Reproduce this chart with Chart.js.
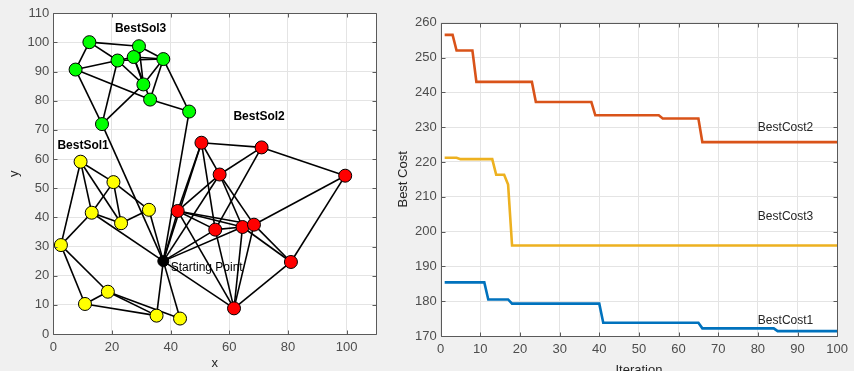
<!DOCTYPE html>
<html>
<head>
<meta charset="utf-8">
<script src="https://cdn.jsdelivr.net/npm/chart.js@4/dist/chart.umd.min.js"></script>
<style>
  html, body { margin: 0; padding: 0; background: #f0f0f0; }
  #wrap { position: relative; width: 854px; height: 371px; overflow: hidden; }
  #routes { position: absolute; left: 0; top: 0; }
  #costs { position: absolute; left: 380px; top: 0; }
</style>
</head>
<body>
<div id="wrap">
  <canvas id="routes" width="385" height="371" style="width:385px;height:371px"></canvas>
  <canvas id="costs" width="474" height="378" style="width:474px;height:378px"></canvas>
</div>
<script>
// ---- Route map: node coordinates per solution ----
const startPoint = { x: 37.5, y: 25 };

const sol1X = [9.3, 20.5, 13.1, 23.1, 32.6, 2.6, 18.6, 10.8, 35.2, 43.2];
const sol1Y = [59.1, 52.1, 41.6, 38.0, 42.6, 30.5, 14.5, 10.3, 6.3, 5.3];

const sol2X = [50.5, 71.0, 99.5, 56.7, 42.4, 55.2, 64.5, 68.4, 81.0, 61.6];
const sol2Y = [65.6, 64.0, 54.3, 54.7, 42.2, 35.8, 36.7, 37.5, 24.7, 8.8];

const sol3X = [12.3, 29.2, 7.6, 21.9, 27.4, 37.5, 30.7, 33.0, 46.3, 16.6];
const sol3Y = [100.1, 98.7, 90.7, 93.8, 95.0, 94.3, 85.6, 80.4, 76.3, 72.0];

// links between nodes ('S' = starting point)
const sol1Links = [[0,5],[0,1],[0,2],[0,3],[1,2],[1,3],[1,4],[2,3],[2,'S'],[3,4],[4,'S'],
  [5,2],[5,7],[5,6],[6,7],[6,8],[6,9],[7,8],[8,'S'],[9,'S']];
const sol2Links = [[0,1],[0,3],[0,4],[0,5],[1,3],[1,5],[1,2],[3,4],[3,6],[3,7],[3,'S'],
  [4,5],[4,6],[4,7],[4,9],[4,'S'],[5,6],[5,9],[5,'S'],[6,'S'],[6,9],[7,9],[7,2],[7,8],
  [6,8],[2,8],[8,9],['S',9],[0,'S']];
const sol3Links = [[0,1],[0,3],[0,2],[1,5],[1,6],[2,3],[2,7],[2,9],[3,4],[3,5],[4,5],
  [3,6],[3,9],[9,6],[4,6],[4,7],[5,6],[5,7],[5,8],[7,8],[8,'S'],[9,'S']];

const routeLabels = [
  { text: 'BestSol3', x: 21, y: 104.6, bold: true },
  { text: 'BestSol2', x: 61.4, y: 74.6, bold: true },
  { text: 'BestSol1', x: 1.4, y: 64.7, bold: true },
  { text: 'Starting Point', x: 40, y: 22.9, bold: false }
];

// ---- Convergence curves (one value per iteration, 1..100) ----
const iterations = Array.from({ length: 100 }, (_, i) => i + 1);

const bestCost1 = [
  185.4,185.4,185.4,185.4,185.4,185.4,185.4,185.4,185.4,185.4,   // 1-10
  185.4,180.5,180.5,180.5,180.5,180.5,180.5,179.3,179.3,179.3,   // 11-20
  179.3,179.3,179.3,179.3,179.3,179.3,179.3,179.3,179.3,179.3,   // 21-30
  179.3,179.3,179.3,179.3,179.3,179.3,179.3,179.3,179.3,179.3,   // 31-40
  173.8,173.8,173.8,173.8,173.8,173.8,173.8,173.8,173.8,173.8,   // 41-50
  173.8,173.8,173.8,173.8,173.8,173.8,173.8,173.8,173.8,173.8,   // 51-60
  173.8,173.8,173.8,173.8,173.8,172.2,172.2,172.2,172.2,172.2,   // 61-70
  172.2,172.2,172.2,172.2,172.2,172.2,172.2,172.2,172.2,172.2,   // 71-80
  172.2,172.2,172.2,172.2,171.4,171.4,171.4,171.4,171.4,171.4,   // 81-90
  171.4,171.4,171.4,171.4,171.4,171.4,171.4,171.4,171.4,171.4    // 91-100
];
const bestCost2 = [
  256.5,256.5,256.5,252,252,252,252,252,243,243,                 // 1-10
  243,243,243,243,243,243,243,243,243,243,                       // 11-20
  243,243,243,237.2,237.2,237.2,237.2,237.2,237.2,237.2,         // 21-30
  237.2,237.2,237.2,237.2,237.2,237.2,237.2,237.2,233.4,233.4,   // 31-40
  233.4,233.4,233.4,233.4,233.4,233.4,233.4,233.4,233.4,233.4,   // 41-50
  233.4,233.4,233.4,233.4,233.4,232.5,232.5,232.5,232.5,232.5,   // 51-60
  232.5,232.5,232.5,232.5,232.5,225.7,225.7,225.7,225.7,225.7,   // 61-70
  225.7,225.7,225.7,225.7,225.7,225.7,225.7,225.7,225.7,225.7,   // 71-80
  225.7,225.7,225.7,225.7,225.7,225.7,225.7,225.7,225.7,225.7,   // 81-90
  225.7,225.7,225.7,225.7,225.7,225.7,225.7,225.7,225.7,225.7    // 91-100
];
const bestCost3 = [
  221.2,221.2,221.2,221.2,220.8,220.8,220.8,220.8,220.8,220.8,   // 1-10
  220.8,220.8,220.8,216.3,216.3,216.3,213.5,196,196,196,         // 11-20
  196,196,196,196,196,196,196,196,196,196,                       // 21-30
  196,196,196,196,196,196,196,196,196,196,                       // 31-40
  196,196,196,196,196,196,196,196,196,196,                       // 41-50
  196,196,196,196,196,196,196,196,196,196,                       // 51-60
  196,196,196,196,196,196,196,196,196,196,                       // 61-70
  196,196,196,196,196,196,196,196,196,196,                       // 71-80
  196,196,196,196,196,196,196,196,196,196,                       // 81-90
  196,196,196,196,196,196,196,196,196,196                        // 91-100
];

const costLabels = [
  { text: 'BestCost2', x: 80, y: 229.8 },
  { text: 'BestCost3', x: 80, y: 204.4 },
  { text: 'BestCost1', x: 80, y: 174.4 }
];

// ---- shared drawing helpers ----
const FONT = "'Liberation Sans', Arial, sans-serif";
Chart.defaults.font.family = FONT;

// white plot area, box outline and inward tick marks
const axesBox = {
  id: 'axesBox',
  beforeDraw(chart) {
    const { ctx, chartArea: a } = chart;
    ctx.save();
    ctx.fillStyle = '#ffffff';
    ctx.fillRect(a.left, a.top, a.right - a.left, a.bottom - a.top);
    ctx.restore();
  },
  afterDraw(chart) {
    const { ctx, chartArea: a, scales } = chart;
    ctx.save();
    ctx.strokeStyle = '#5a5a5a';
    ctx.lineWidth = 1;
    ctx.beginPath();
    const L = Math.round(a.left) + 0.5, R = Math.round(a.right) + 0.5;
    const T = Math.round(a.top) + 0.5, B = Math.round(a.bottom) + 0.5;
    ctx.rect(L, T, R - L, B - T);
    const tl = 4;
    scales.x.ticks.forEach(t => {
      const px = Math.round(scales.x.getPixelForValue(t.value)) + 0.5;
      ctx.moveTo(px, B); ctx.lineTo(px, B - tl);
      ctx.moveTo(px, T); ctx.lineTo(px, T + tl);
    });
    scales.y.ticks.forEach(t => {
      const py = Math.round(scales.y.getPixelForValue(t.value)) + 0.5;
      ctx.moveTo(L, py); ctx.lineTo(L + tl, py);
      ctx.moveTo(R, py); ctx.lineTo(R - tl, py);
    });
    ctx.stroke();
    ctx.restore();
  }
};

// text annotations placed in data coordinates
const textNotes = {
  id: 'textNotes',
  afterDatasetsDraw(chart, args, opts) {
    const { ctx, scales } = chart;
    ctx.save();
    ctx.textBaseline = 'middle';
    ctx.textAlign = 'left';
    (opts.items || []).forEach(it => {
      ctx.font = (it.bold ? 'bold ' : '') + '12px ' + FONT;
      ctx.fillStyle = opts.color || '#000';
      ctx.fillText(it.text, scales.x.getPixelForValue(it.x), scales.y.getPixelForValue(it.y));
    });
    ctx.restore();
  }
};

const tickFont = { size: 13 };
const tickColor = '#4d4d4d';
const gridColor = '#e4e4e4';

// ---- route map chart ----
function linkDatasets(xs, ys, links) {
  const pt = k => (k === 'S' ? startPoint : { x: xs[k], y: ys[k] });
  return links.map(([a, b]) => ({
    type: 'scatter',
    data: [pt(a), pt(b)],
    showLine: true,
    borderColor: '#000',
    borderWidth: 1.6,
    pointRadius: 0,
    order: 2
  }));
}
function nodeDataset(xs, ys, fill) {
  return {
    type: 'scatter',
    data: xs.map((x, i) => ({ x, y: ys[i] })),
    pointRadius: 6.5,
    pointBackgroundColor: fill,
    pointBorderColor: '#000',
    pointBorderWidth: 1,
    showLine: false,
    order: 0
  };
}

new Chart(document.getElementById('routes'), {
  type: 'scatter',
  data: {
    datasets: [
      ...linkDatasets(sol1X, sol1Y, sol1Links),
      ...linkDatasets(sol2X, sol2Y, sol2Links),
      ...linkDatasets(sol3X, sol3Y, sol3Links),
      nodeDataset(sol1X, sol1Y, '#ffff00'),
      nodeDataset(sol2X, sol2Y, '#ff0000'),
      nodeDataset(sol3X, sol3Y, '#00ff00'),
      {
        type: 'scatter',
        data: [startPoint],
        pointRadius: 5.5,
        pointBackgroundColor: '#000',
        pointBorderColor: '#000',
        order: 0
      }
    ]
  },
  options: {
    responsive: false,
    animation: false,
    events: [],
    layout: { padding: { top: 13.3, right: 9, left: 0, bottom: 0 } },
    plugins: {
      legend: { display: false },
      tooltip: { enabled: false },
      textNotes: { items: routeLabels, color: '#000' }
    },
    scales: {
      x: {
        type: 'linear', min: 0, max: 110,
        afterFit(s) { s.height = 37; },
        grid: { color: gridColor, drawTicks: false },
        border: { display: false },
        ticks: { stepSize: 20, includeBounds: false, font: tickFont, color: tickColor, padding: 5.5, maxRotation: 0 },
        title: { display: true, text: 'x', font: { size: 13 }, color: '#262626', padding: { top: 0, bottom: 0 } }
      },
      y: {
        type: 'linear', min: 0, max: 110,
        afterFit(s) { s.width = 53.3; },
        grid: { color: gridColor, drawTicks: false },
        border: { display: false },
        ticks: { stepSize: 10, font: tickFont, color: tickColor, padding: 4 },
        title: { display: true, text: 'y', font: { size: 13 }, color: '#262626', padding: { top: 7, bottom: 0 } }
      }
    }
  },
  plugins: [axesBox, textNotes]
});

// ---- convergence chart ----
const series = (vals, color) => ({
  data: iterations.map((it, i) => ({ x: it, y: vals[i] })),
  borderColor: color,
  borderWidth: 2.6,
  pointRadius: 0,
  tension: 0,
  fill: false
});

new Chart(document.getElementById('costs'), {
  type: 'line',
  data: {
    datasets: [
      series(bestCost1, '#0072BD'),
      series(bestCost2, '#D95319'),
      series(bestCost3, '#EDB120')
    ]
  },
  options: {
    responsive: false,
    animation: false,
    events: [],
    layout: { padding: { top: 22.7, right: 14, left: 0, bottom: 0 } },
    plugins: {
      legend: { display: false },
      tooltip: { enabled: false },
      textNotes: { items: costLabels, color: '#262626' }
    },
    scales: {
      x: {
        type: 'linear', min: 0, max: 100,
        afterFit(s) { s.height = 42; },
        grid: { color: gridColor, drawTicks: false },
        border: { display: false },
        ticks: { stepSize: 10, font: tickFont, color: tickColor, padding: 6, maxRotation: 0 },
        title: { display: true, text: 'Iteration', font: { size: 13 }, color: '#262626', padding: { top: 3.5, bottom: 0 } }
      },
      y: {
        type: 'linear', min: 170, max: 260,
        afterFit(s) { s.width = 60.7; },
        grid: { color: gridColor, drawTicks: false },
        border: { display: false },
        ticks: { stepSize: 10, font: tickFont, color: tickColor, padding: 4 },
        title: { display: true, text: 'Best Cost', font: { size: 13 }, color: '#262626', padding: { top: 16, bottom: 0 } }
      }
    }
  },
  plugins: [axesBox, textNotes]
});
</script>
</body>
</html>
